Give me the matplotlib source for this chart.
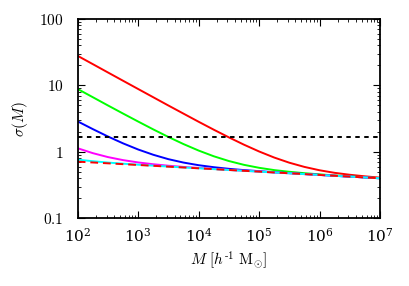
import matplotlib
matplotlib.use('Agg')
import matplotlib.pyplot as plt
from matplotlib.ticker import FixedLocator, FixedFormatter, LogLocator, NullFormatter

plt.rcParams['mathtext.fontset'] = 'cm'
plt.rcParams['font.family'] = 'serif'
plt.rcParams['font.serif'] = ['DejaVu Serif']

# halo mass (h^-1 Msun), quarter-decade samples
mass = [1e2, 1.78e2, 3.16e2, 5.62e2, 1e3, 1.78e3, 3.16e3, 5.62e3, 1e4, 1.78e4, 3.16e4,
        5.62e4, 1e5, 1.78e5, 3.16e5, 5.62e5, 1e6, 1.78e6, 3.16e6, 5.62e6, 1e7]

sigma_red = [27.76, 20.82, 15.62, 11.72, 8.80, 6.61, 4.97, 3.75, 2.83, 2.15, 1.649,
             1.279, 1.011, 0.819, 0.685, 0.592, 0.527, 0.482, 0.451, 0.427, 0.408]
sigma_green = [8.80, 6.62, 4.98, 3.76, 2.85, 2.17, 1.671, 1.306, 1.043, 0.856, 0.726,
               0.636, 0.574, 0.530, 0.500, 0.476, 0.457, 0.440, 0.426, 0.413, 0.400]
sigma_blue = [2.864, 2.192, 1.698, 1.339, 1.082, 0.901, 0.774, 0.688, 0.628, 0.586, 0.554,
              0.530, 0.511, 0.492, 0.478, 0.463, 0.449, 0.435, 0.423, 0.411, 0.399]
sigma_magenta = [1.129, 0.953, 0.832, 0.749, 0.691, 0.649, 0.617, 0.591, 0.571, 0.552, 0.534,
                 0.518, 0.504, 0.488, 0.475, 0.461, 0.448, 0.435, 0.423, 0.411, 0.399]
sigma_cyan = [0.762, 0.721, 0.688, 0.662, 0.639, 0.618, 0.599, 0.581, 0.565, 0.548, 0.532,
              0.517, 0.503, 0.488, 0.475, 0.461, 0.448, 0.435, 0.423, 0.411, 0.399]
sigma_base = [0.710, 0.690, 0.670, 0.651, 0.633, 0.615, 0.597, 0.580, 0.564, 0.548, 0.532,
              0.517, 0.503, 0.488, 0.475, 0.461, 0.448, 0.435, 0.423, 0.411, 0.399]
delta_c = 1.686

fig = plt.figure(figsize=(4.09, 2.86), dpi=100)
ax = fig.add_axes([0.190, 0.237, 0.739, 0.697])

lw = 1.4
ax.plot(mass, sigma_red, color='#ff0000', lw=lw)
ax.plot(mass, sigma_green, color='#00ff00', lw=lw)
ax.plot(mass, sigma_blue, color='#0000ff', lw=lw)
ax.plot(mass, sigma_magenta, color='#ff00ff', lw=lw)
ax.plot(mass, sigma_cyan, color='#00ffff', lw=lw)
ax.plot(mass, sigma_base, color='#ff0000', lw=lw, ls=(0, (4, 2.5)))
ax.axhline(delta_c, color='black', lw=lw, ls=(0, (2.3, 2.3)))

ax.set_xscale('log')
ax.set_yscale('log')
ax.set_xlim(1e2, 1e7)
ax.set_ylim(0.1, 100)

ax.yaxis.set_major_locator(FixedLocator([0.1, 1, 10, 100]))
ax.yaxis.set_major_formatter(FixedFormatter(['$0.1$', '$1$', '$10$', '$100$']))
ax.yaxis.set_minor_locator(LogLocator(base=10, subs=range(2, 10)))
ax.yaxis.set_minor_formatter(NullFormatter())
ax.xaxis.set_minor_locator(LogLocator(base=10, subs=range(2, 10)))
ax.xaxis.set_minor_formatter(NullFormatter())

ax.tick_params(which='both', direction='in', top=True, right=True, labelsize=11, colors='black')
ax.tick_params(which='major', length=5, width=0.8)
ax.tick_params(which='minor', length=2.5, width=0.6)
ax.tick_params(axis='y', which='major', pad=10)
ax.tick_params(axis='x', which='major', pad=6.5)
for s in ax.spines.values():
    s.set_linewidth(1.3)

ax.set_xlabel(r'$M\ [h^{\text{-}1}\ \mathrm{M}_{\odot}]$', fontsize=11, labelpad=3)
ax.set_ylabel(r'$\sigma(M)$', fontsize=11, labelpad=7)

fig.savefig('out.png', dpi=100)
